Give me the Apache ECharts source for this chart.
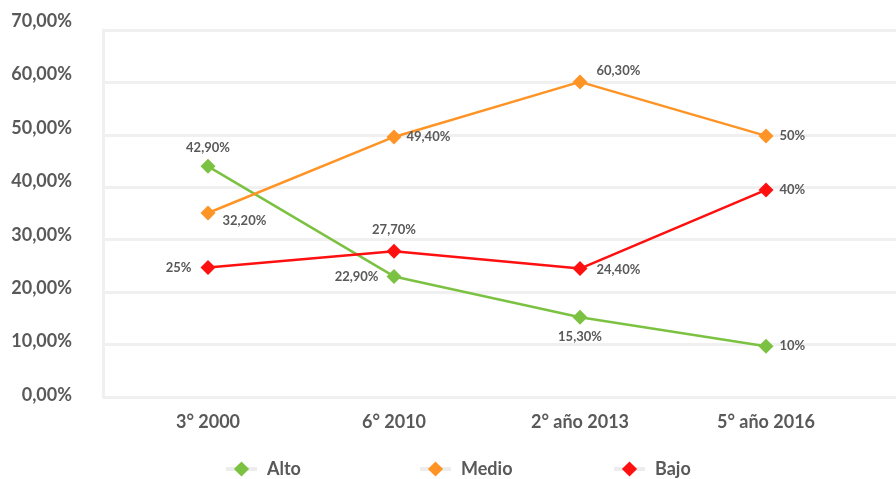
<!DOCTYPE html>
<html>
<head>
<meta charset="utf-8">
<script src="https://cdn.jsdelivr.net/npm/echarts@6/dist/echarts.min.js"></script>
<style>
  html, body { margin: 0; padding: 0; background: #fff; }
  #chart { width: 896px; height: 479px; }
</style>
</head>
<body>
<div id="chart"></div>
<script>
// categories and values
var categories = ['3° 2000', '6° 2010', '2° año 2013', '5° año 2016'];
var seriesNames = ['Alto', 'Medio', 'Bajo'];

var alto  = [44.0, 23.0, 15.2, 9.7];
var medio = [35.1, 49.6, 60.1, 49.8];
var bajo  = [24.7, 27.8, 24.5, 39.5];

// text printed next to each point
var altoLabels  = ['42,90%', '22,90%', '15,30%', '10%'];
var medioLabels = ['32,20%', '49,40%', '60,30%', '50%'];
var bajoLabels  = ['25%', '27,70%', '24,40%', '40%'];

var yTicks = [0, 10, 20, 30, 40, 50, 60, 70];

var colors = ['#7cc242', '#ff9426', '#ff1010'];
var textGrey = '#595959';
var gridGrey = '#f0f0f0';

// label placement per point (style, not data)
var altoPos  = [{position: 'top', distance: 5}, {position: 'left', distance: 8}, {position: 'bottom', distance: 6}, {position: 'right', distance: 6}];
var medioPos = [{position: 'right', distance: 7, offset: [0, 8]}, {position: 'right', distance: 5}, {position: 'right', distance: 9, offset: [0, -11]}, {position: 'right', distance: 6}];
var bajoPos  = [{position: 'left', distance: 9}, {position: 'top', distance: 7}, {position: 'right', distance: 9, offset: [0, 1]}, {position: 'right', distance: 6}];

function buildData(values, labels, pos) {
  return values.map(function (v, i) {
    var lbl = {
      show: true,
      formatter: labels[i],
      color: textGrey,
      fontFamily: 'Lato',
      fontWeight: 'bold',
      fontSize: 13,
      position: pos[i].position,
      distance: pos[i].distance
    };
    if (pos[i].offset) lbl.offset = pos[i].offset;
    return { value: v, label: lbl };
  });
}

function makeSeries(name, values, labels, pos, color) {
  return {
    name: name,
    type: 'line',
    xAxisIndex: 1,
    yAxisIndex: 1,
    data: buildData(values, labels, pos),
    symbol: 'diamond',
    symbolSize: 15,
    showAllSymbol: true,
    lineStyle: { color: color, width: 2.5 },
    itemStyle: { color: color },
    emphasis: { disabled: true },
    animation: false
  };
}

var hiddenX = function (g) {
  return { type: 'category', gridIndex: g, data: categories,
    axisLine: { show: false }, axisTick: { show: false }, axisLabel: { show: false } };
};

// one legend per item so the spacing matches the picture
var legendLefts = [219, 413, 607];
function makeLegend(name, left) {
  return {
    data: [name],
    left: left,
    top: 455,
    itemWidth: 31,
    itemHeight: 19,
    lineStyle: { color: '#ededed', width: 4 },
    textStyle: { color: textGrey, fontSize: 18, fontFamily: 'Lato', fontWeight: 'bold', padding: [0, 0, 0, 5] }
  };
}

var chart = echarts.init(document.getElementById('chart'));
var option = {
  backgroundColor: '#ffffff',
  textStyle: { fontFamily: 'Lato' },
  grid: [
    { left: 103, right: 0, top: 30, bottom: 82 },   // grid lines
    { left: 115, right: 37, top: 30, bottom: 82 },  // plotted series
    { left: 103, right: 0, top: 21, bottom: 84 }    // y tick labels
  ],
  legend: seriesNames.map(function (n, i) { return makeLegend(n, legendLefts[i]); }),
  xAxis: [
    hiddenX(0),
    {
      type: 'category', gridIndex: 1, data: categories,
      axisLine: { show: false }, axisTick: { show: false },
      axisLabel: { color: textGrey, fontSize: 18, fontWeight: 'bold', fontFamily: 'Lato', margin: 16 }
    },
    hiddenX(2)
  ],
  yAxis: [
    {
      type: 'value', gridIndex: 0, min: yTicks[0], max: yTicks[yTicks.length - 1], interval: 10,
      axisLine: { show: true, lineStyle: { color: gridGrey, width: 3 } },
      axisTick: { show: false },
      splitLine: { show: true, lineStyle: { color: gridGrey, width: 3 } },
      axisLabel: { show: false }
    },
    {
      type: 'value', gridIndex: 1, min: yTicks[0], max: yTicks[yTicks.length - 1], interval: 10,
      axisLine: { show: false }, axisTick: { show: false },
      splitLine: { show: false }, axisLabel: { show: false }
    },
    {
      type: 'value', gridIndex: 2, min: yTicks[0], max: yTicks[yTicks.length - 1], interval: 10,
      axisLine: { show: false }, axisTick: { show: false }, splitLine: { show: false },
      axisLabel: {
        color: textGrey, fontSize: 18, fontWeight: 'bold', fontFamily: 'Lato', margin: 31,
        formatter: function (v) { return v.toFixed(2).replace('.', ',') + '%'; }
      }
    }
  ],
  series: [
    makeSeries(seriesNames[0], alto, altoLabels, altoPos, colors[0]),
    makeSeries(seriesNames[1], medio, medioLabels, medioPos, colors[1]),
    makeSeries(seriesNames[2], bajo, bajoLabels, bajoPos, colors[2])
  ]
};
chart.setOption(option);
</script>
</body>
</html>
